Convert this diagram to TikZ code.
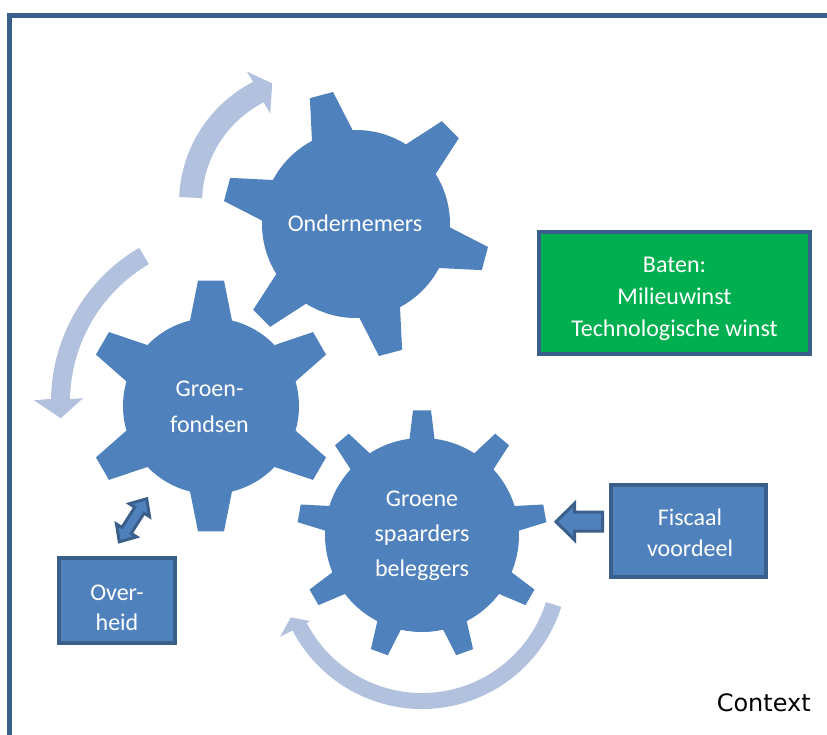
\documentclass[tikz,border=0pt]{standalone}
\usepackage{fontspec}
\newfontfamily\carlito{Carlito}
\newfontfamily\dejavu{DejaVu Sans}
\usetikzlibrary{calc}
\definecolor{gearblue}{HTML}{4F81BD}
\definecolor{darkborder}{HTML}{3A5F8B}
\definecolor{lightarrow}{RGB}{177,193,222}
\definecolor{gruen}{HTML}{00B050}
% #1 centre, #2 body radius, #3 tip radius, #4 teeth, #5 first tooth angle, #6 base half width, #7 tip half width
\newcommand\drawgear[7]{%
  \pgfmathsetmacro\gxb{#2*sqrt(1-(#6/#2)*(#6/#2))}%
  \pgfmathsetmacro\gxt{#3*sqrt(1-(#7/#3)*(#7/#3))}%
  \pgfmathsetmacro\gxi{\gxb-12}%
  \pgfmathsetmacro\ghi{#6+(#6-#7)*12/(\gxt-\gxb)}%
  \fill[gearblue] (#1) circle[radius=#2];
  \foreach \k in {1,...,#4}{%
    \pgfmathsetmacro\gang{#5+(\k-1)*360/#4}%
    \fill[gearblue, shift={(#1)}, rotate=\gang] (\gxi,-\ghi) -- (\gxt,-#7) -- (\gxt,#7) -- (\gxi,\ghi) -- cycle;
  }%
}
\tikzset{
  gearlabel/.style={text=white, align=center, inner sep=0pt},
  panel/.style={draw=darkborder, line width=4pt, inner sep=0pt},
  blockarrow/.style={fill=gearblue, draw=darkborder, line width=3pt, line join=miter},
  cyclearrow/.style={fill=lightarrow},
  frameline/.style={draw=darkborder, line width=5pt},
}
\begin{document}
\begin{tikzpicture}[x=1pt,y=-1pt]
\useasboundingbox (0,0) rectangle (827,734);
% frame
\draw[frameline] (9.5,740) -- (9.5,15) -- (835,15);

% centres
\coordinate (G1) at (356,224);
\coordinate (G2) at (211,406);
\coordinate (G3) at (422,535);
\coordinate (A0) at (315,203);
\coordinate (B0) at (230,402);
\coordinate (C0) at (422,563);

% circular arrows
\fill[cyclearrow] ($(A0)+(-177.5:136)$) arc[start angle=-177.5, end angle=-117, radius=136]
  -- ($(A0)+(-117.4:148)$) -- ($(A0)+(-109.7:127)$) -- ($(A0)+(-116.6:100)$)
  -- ($(A0)+(-117:113)$) arc[start angle=-117, end angle=-177.5, radius=113] -- cycle;
\fill[cyclearrow] ($(B0)+(-120.5:179)$) arc[start angle=-120.5, end angle=-179, radius=179]
  -- ($(B0)+(-179.5:196)$) -- ($(B0)+(-185.5:170)$) -- ($(B0)+(-178.5:147)$)
  -- ($(B0)+(-179:160)$) arc[start angle=-179, end angle=-120.5, radius=160] -- cycle;
\fill[cyclearrow] ($(C0)+(17.5:146)$) arc[start angle=17.5, end angle=152.5, radius=146]
  -- ($(C0)+(152.5:160)$) -- ($(C0)+(157.5:142)$) -- ($(C0)+(152.5:126)$)
  -- ($(C0)+(152.5:130)$) arc[start angle=152.5, end angle=17.5, radius=130] -- cycle;

% gears
\drawgear{G1}{94}{134}{6}{105}{21}{12}
\drawgear{G2}{88}{126}{6}{90}{21}{13}
\drawgear{G3}{97}{125}{9}{90}{12.5}{9}

% gear labels
\node[gearlabel, font=\carlito\fontsize{24pt}{35pt}\selectfont] (ondernemers) at (355,223.3) {Ondernemers};
\node[gearlabel, font=\carlito\fontsize{24pt}{36.3pt}\selectfont] (groenfondsen) at (209.5,406.5) {Groen-\\fondsen};
\node[gearlabel, font=\carlito\fontsize{24pt}{35pt}\selectfont] (spaarders) at (422,535.4) {Groene\\spaarders\\beleggers};

% panels
\node[panel, fill=gruen, minimum width=271pt, minimum height=122pt] (baten) at (674.5,293) {};
\node[gearlabel, font=\carlito\fontsize{24pt}{31.7pt}\selectfont] (batentext) at (674.5,298.7) {Baten:\\Milieuwinst\\Technologische winst};
\node[panel, fill=gearblue, minimum width=155pt, minimum height=92.6pt] (fiscaal) at (688.8,531) {};
\node[gearlabel, font=\carlito\fontsize{24pt}{31pt}\selectfont] (fiscaaltext) at (690,532.3) {Fiscaal\\voordeel};
\node[panel, fill=gearblue, minimum width=115.4pt, minimum height=85pt] (overheid) at (117,600.5) {};
\node[gearlabel, font=\carlito\fontsize{24pt}{30pt}\selectfont] (overheidtext) at (117,607.4) {Over-\\heid};

% block arrows
\filldraw[blockarrow] (556,521.7) -- (574.5,503.5) -- (574.5,512.2) -- (602.5,512.2)
  -- (602.5,531.2) -- (574.5,531.2) -- (574.5,540) -- cycle;
\begin{scope}[shift={(133,520.3)}, rotate=57.5]
\filldraw[blockarrow] (25.5,0) -- (12,-12) -- (12,-5.5) -- (-12,-5.5) -- (-12,-12) -- (-25.5,0)
  -- (-12,12) -- (-12,5.5) -- (12,5.5) -- (12,12) -- cycle;
\end{scope}

% context
\node[anchor=base east, inner sep=0pt, font=\dejavu\fontsize{24pt}{28pt}\selectfont] (context) at (811,711.7) {Context};
\end{tikzpicture}
\end{document}
